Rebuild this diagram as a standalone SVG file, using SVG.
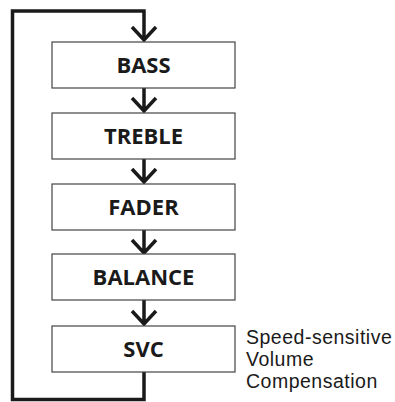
<svg xmlns="http://www.w3.org/2000/svg" width="395" height="402" viewBox="0 0 395 402">
<style>
.box{fill:#fff;stroke:#444;stroke-width:1.2}
.lbl{font-family:"Open Sans","Noto Sans",sans-serif;font-weight:bold;font-size:22px;fill:#1a1a1a;text-anchor:middle}
.note{font-family:"Liberation Sans",Arial,sans-serif;font-size:19.5px;letter-spacing:0.5px;fill:#1a1a1a}
.ln{fill:none;stroke:#1a1a1a;stroke-width:3.5;stroke-linejoin:miter}
</style>
<g id="connectors">
<path class="ln" d="M144,372 V399.5 H12.5 V11 H144 V40"/>
<path class="ln" d="M132,27 L144,40 L156,27"/>
<path class="ln" d="M144,88 V111 M132,98 L144,111 L156,98"/>
<path class="ln" d="M144,159 V182 M132,169 L144,182 L156,169"/>
<path class="ln" d="M144,230 V253 M132,240 L144,253 L156,240"/>
<path class="ln" d="M144,300 V324 M132,311 L144,324 L156,311"/>
</g>
<g id="bass"><rect class="box" x="52" y="42" width="183" height="46"/><text class="lbl" x="143.5" y="73">BASS</text></g>
<g id="treble"><rect class="box" x="52" y="113" width="183" height="46"/><text class="lbl" x="143.5" y="144">TREBLE</text></g>
<g id="fader"><rect class="box" x="52" y="184" width="183" height="46"/><text class="lbl" x="143.5" y="215">FADER</text></g>
<g id="balance"><rect class="box" x="52" y="254" width="183" height="46"/><text class="lbl" x="143.5" y="285">BALANCE</text></g>
<g id="svc"><rect class="box" x="52" y="326" width="183" height="46"/><text class="lbl" x="143.5" y="357">SVC</text></g>
<g id="svc-note">
<text class="note" x="246" y="344">Speed-sensitive</text>
<text class="note" x="246" y="366">Volume</text>
<text class="note" x="246" y="388">Compensation</text>
</g>
</svg>
